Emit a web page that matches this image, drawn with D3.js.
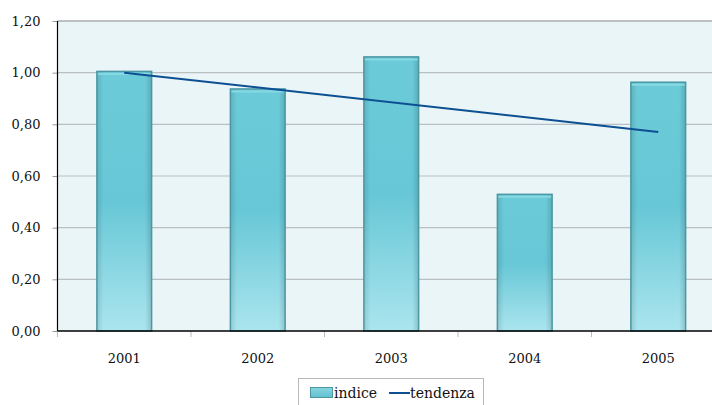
<!DOCTYPE html>
<html>
<head>
<meta charset="utf-8">
<script src="https://cdn.jsdelivr.net/npm/d3@7/dist/d3.min.js"></script>
<style>
  html, body { margin: 0; padding: 0; background: #ffffff; }
  svg { display: block; }
</style>
</head>
<body>
<svg id="chart" width="712" height="405"></svg>
<script>
// Annual index values and the fitted trend line
const years = ["2001", "2002", "2003", "2004", "2005"];
const indice = [1.005, 0.937, 1.061, 0.529, 0.963];
const tendenzaYears = ["2001", "2005"];
const tendenza = [1.00, 0.77];
const yTicks = [0, 0.2, 0.4, 0.6, 0.8, 1.0, 1.2];

const FONT = "'DejaVu Serif', serif";

const svg = d3.select("#chart");
const margin = { left: 57.5, top: 21, bottom: 331, right: 725 };

const x = d3.scaleBand().domain(years).range([margin.left, margin.right]).paddingInner(0.59).paddingOuter(0.295);
const xc = d3.scaleBand().domain(years).range([margin.left, margin.right]);
const y = d3.scaleLinear().domain([0, 1.2]).range([margin.bottom, margin.top]);
const fmt = v => d3.format(".2f")(v).replace(".", ",");

const defs = svg.append("defs");
const grad = defs.append("linearGradient").attr("id", "barGrad").attr("x1", 0).attr("y1", 0).attr("x2", 0).attr("y2", 1);
grad.append("stop").attr("offset", "0%").attr("stop-color", "#6ccbd8");
grad.append("stop").attr("offset", "50%").attr("stop-color", "#67c7d6");
grad.append("stop").attr("offset", "100%").attr("stop-color", "#aae5ee");
const gradH = defs.append("linearGradient").attr("id", "barEdge").attr("x1", 0).attr("y1", 0).attr("x2", 1).attr("y2", 0);
gradH.append("stop").attr("offset", "0%").attr("stop-color", "#000").attr("stop-opacity", 0.12);
gradH.append("stop").attr("offset", "12%").attr("stop-color", "#000").attr("stop-opacity", 0);
gradH.append("stop").attr("offset", "88%").attr("stop-color", "#000").attr("stop-opacity", 0);
gradH.append("stop").attr("offset", "100%").attr("stop-color", "#000").attr("stop-opacity", 0.15);
const legGrad = defs.append("linearGradient").attr("id", "legGrad").attr("x1", 0).attr("y1", 0).attr("x2", 0).attr("y2", 1);
legGrad.append("stop").attr("offset", "0%").attr("stop-color", "#8ad6e1");
legGrad.append("stop").attr("offset", "100%").attr("stop-color", "#5fbfcf");

// Plot background
svg.append("rect")
  .attr("x", margin.left).attr("y", margin.top)
  .attr("width", margin.right - margin.left).attr("height", margin.bottom - margin.top)
  .attr("fill", "#eaf5f8");

// Horizontal gridlines
svg.append("g").selectAll("line").data(yTicks.filter(d => d > 0)).join("line")
  .attr("x1", margin.left).attr("x2", margin.right)
  .attr("y1", d => y(d)).attr("y2", d => y(d))
  .attr("stroke", d => d === 1.2 ? "#a8aeb0" : "#b9c0c2")
  .attr("stroke-width", d => d === 1.2 ? 1.6 : 1.2);

// Y axis
const yAxis = svg.append("g").attr("transform", `translate(${margin.left},0)`)
  .call(d3.axisLeft(y).tickValues(yTicks).tickFormat(fmt).tickSize(5).tickPadding(12));
yAxis.attr("font-family", FONT).attr("font-size", 13);
yAxis.select(".domain").remove();
yAxis.selectAll(".tick line").attr("stroke", "#9a9a9a");
yAxis.selectAll("text").attr("fill", "#111");

// X axis ticks at category boundaries
const xAxis = svg.append("g").attr("transform", `translate(0,${margin.bottom})`)
  .attr("font-family", FONT).attr("font-size", 13);
const bounds = years.map(d => xc(d)).concat([xc(years[years.length - 1]) + xc.bandwidth()]);
xAxis.selectAll("line.tk").data(bounds).join("line").attr("class", "tk")
  .attr("x1", d => d).attr("x2", d => d).attr("y1", 0).attr("y2", 6)
  .attr("stroke", "#bdbdbd");
xAxis.selectAll("text").data(years).join("text")
  .attr("x", d => xc(d) + xc.bandwidth() / 2).attr("y", 32)
  .attr("text-anchor", "middle").attr("fill", "#111").text(d => d);

// Bars
const bars = svg.append("g").selectAll("g").data(years).join("g");
bars.append("rect")
  .attr("x", d => x(d)).attr("width", x.bandwidth())
  .attr("y", (d, i) => y(indice[i])).attr("height", (d, i) => y(0) - y(indice[i]))
  .attr("fill", "url(#barGrad)");
bars.append("rect")
  .attr("x", d => x(d)).attr("width", x.bandwidth())
  .attr("y", (d, i) => y(indice[i])).attr("height", (d, i) => y(0) - y(indice[i]))
  .attr("fill", "url(#barEdge)")
  .attr("stroke", "#4b97a3").attr("stroke-width", 1.5);
bars.append("line")
  .attr("x1", d => x(d) + 1).attr("x2", d => x(d) + x.bandwidth() - 1)
  .attr("y1", (d, i) => y(indice[i]) + 2.5).attr("y2", (d, i) => y(indice[i]) + 2.5)
  .attr("stroke", "#86d9e3").attr("stroke-width", 2);

// Axis lines
svg.append("line").attr("x1", margin.left).attr("x2", margin.left)
  .attr("y1", margin.top).attr("y2", margin.bottom).attr("stroke", "#000").attr("stroke-width", 1.2);
svg.append("line").attr("x1", margin.left).attr("x2", margin.right)
  .attr("y1", margin.bottom).attr("y2", margin.bottom).attr("stroke", "#000").attr("stroke-width", 1.5);

// Trend line
const line = d3.line().x(d => xc(d[0]) + xc.bandwidth() / 2).y(d => y(d[1]));
svg.append("path")
  .datum(tendenzaYears.map((d, i) => [d, tendenza[i]]))
  .attr("d", line).attr("fill", "none").attr("stroke", "#0c4f92").attr("stroke-width", 2);

// Legend
const leg = svg.append("g").attr("font-family", FONT).attr("font-size", 14);
leg.append("rect").attr("x", 298.5).attr("y", 378.5).attr("width", 185).attr("height", 40)
  .attr("fill", "#fff").attr("stroke", "#b8b8b8");
leg.append("rect").attr("x", 310.5).attr("y", 387.5).attr("width", 22).attr("height", 10)
  .attr("fill", "url(#legGrad)").attr("stroke", "#4b97a3");
leg.append("text").attr("x", 334).attr("y", 398).attr("fill", "#111").text("indice");
leg.append("line").attr("x1", 389).attr("x2", 410).attr("y1", 393).attr("y2", 393)
  .attr("stroke", "#0c4f92").attr("stroke-width", 2);
leg.append("text").attr("x", 410).attr("y", 398).attr("fill", "#111").text("tendenza");
</script>
</body>
</html>
